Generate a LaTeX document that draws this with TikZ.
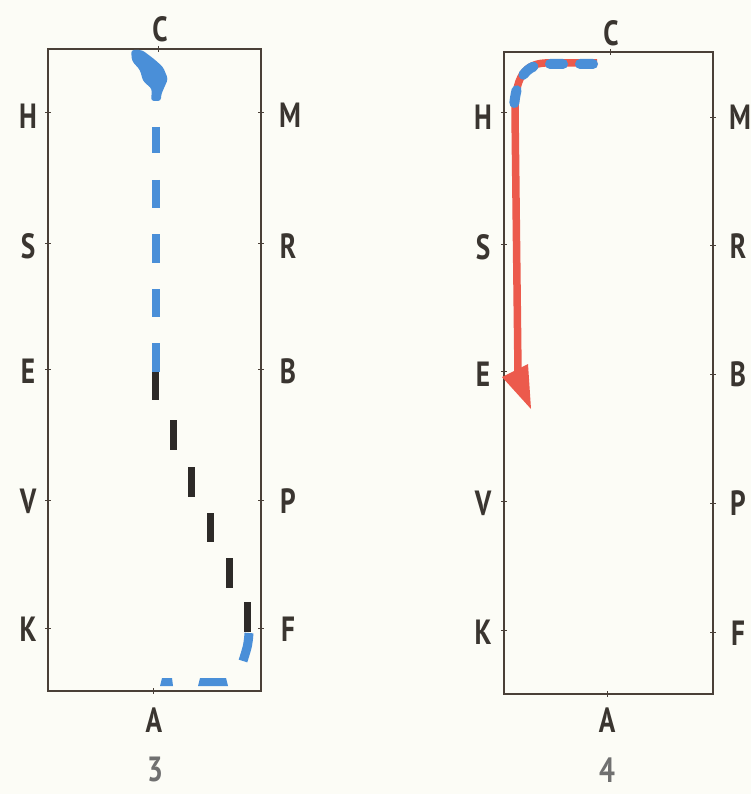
\documentclass[tikz,border=0pt]{standalone}
\usepackage{fontspec}
\setmainfont{PT Sans}
\begin{document}
\begin{tikzpicture}[x=1pt,y=-1pt,
  lbl/.style={font=\bfseries\fontsize{35}{36}\selectfont, text=labelc, xscale=0.78, inner sep=0pt},
  num/.style={font=\bfseries\fontsize{35}{36}\selectfont, text=numc, xscale=0.8, inner sep=0pt},
  arena/.style={draw=framec, line width=1.8pt},
  tickm/.style={draw=framec, line width=1pt},
  bluedash/.style={draw=blueC, line width=8.5pt},
  blackdash/.style={draw=blackC, line width=7pt},
]
\definecolor{labelc}{HTML}{3A3530}
\definecolor{numc}{HTML}{707070}
\definecolor{framec}{HTML}{4A4038}
\definecolor{blueC}{HTML}{4A8FD8}
\definecolor{blackC}{HTML}{2D2A28}
\definecolor{redC}{HTML}{EC5A4C}
\definecolor{bgc}{HTML}{FCFCF6}
\fill[bgc] (0,0) rectangle (751,794);
\useasboundingbox (0,0) rectangle (751,794);

% ---------- arena 3 ----------
\draw[arena] (48,49) rectangle (261,691);
\foreach \y in {113,243,369,500,628} {\draw[tickm] (45,\y) -- (51,\y); \draw[tickm] (258,\y) -- (264,\y);}
\draw[tickm] (158,46) -- (158,52);
\draw[tickm] (153,688) -- (153,694);
\node[lbl] (c3) at (160,29) {C};
\node[lbl] (h3) at (28,116) {H};
\node[lbl] (s3) at (28,246) {S};
\node[lbl] (e3) at (28,371) {E};
\node[lbl] (v3) at (28,501) {V};
\node[lbl] (k3) at (28,629) {K};
\node[lbl] (m3) at (290,115) {M};
\node[lbl] (r3) at (288,246) {R};
\node[lbl] (b3) at (288,371) {B};
\node[lbl] (p3) at (288,501) {P};
\node[lbl] (f3) at (288,629) {F};
\node[lbl] (a3) at (154,720) {A};
\node[num] (n3) at (155,769) {3};

% blue blob near C
\fill[blueC, rounded corners=3pt] (131,50) -- (142,50) -- (154,59) -- (163,67) -- (168,79) -- (164,88) -- (161,95)
  -- (161,101) -- (151,101) -- (152,89) -- (143,81) -- (140,70) -- (132,61) -- cycle;
% blue vertical dashes
\foreach \a/\b in {127/153,180/208,234/263,289/317,343/372}
  \draw[bluedash, line width=8pt] (156,\a) -- (156,\b);
% black diagonal dashes
\foreach \x/\a/\b in {155/372/400,173/420/450,191/467/497,210/513/542,229/558/588,247/602/632}
  \draw[blackdash] (\x,\a) -- (\x,\b);
% blue curve and bottom dashes
\draw[bluedash, line width=9pt] (249,633) .. controls (248,645) .. (243,661);
\fill[blueC] (162,678) -- (172,678) -- (173,686) -- (160,686) -- cycle;
\fill[blueC] (200,678) -- (226,678) -- (228,686) -- (198,686) -- cycle;

% ---------- arena 4 ----------
\draw[arena] (504,52) rectangle (713,694);
\foreach \y/\z in {113/118,244/245,371/374,501/503,630/632} {\draw[tickm] (501,\y) -- (507,\y); \draw[tickm] (710,\z) -- (716,\z);}
\draw[tickm] (610,49) -- (610,55);
\draw[tickm] (607,691) -- (607,697);
\node[lbl] (c4) at (611,33) {C};
\node[lbl] (h4) at (483,117) {H};
\node[lbl] (s4) at (483,247) {S};
\node[lbl] (e4) at (483,374) {E};
\node[lbl] (v4) at (483,503) {V};
\node[lbl] (k4) at (483,632) {K};
\node[lbl] (m4) at (740,117) {M};
\node[lbl] (r4) at (738,246) {R};
\node[lbl] (b4) at (738,374) {B};
\node[lbl] (p4) at (738,503) {P};
\node[lbl] (f4) at (738,633) {F};
\node[lbl] (a4) at (607,720) {A};
\node[num] (n4) at (607,770) {4};

% red path with arrow
\coordinate (rs) at (597,63);
\coordinate (rc) at (515,112);
\coordinate (re) at (518,372);
\draw[redC, line width=7.5pt] (rs) -- (545,63) .. controls (520,64) and (515,85) .. (rc) -- (re);
\fill[redC] (502,377) -- (528,364) -- (531,409) -- cycle;
% blue dashes on the turn
\draw[blueC, line width=10pt, line cap=round, dash pattern=on 13pt off 17pt, dash phase=0pt]
  (593,64) -- (545,64) .. controls (522,65) and (516,85) .. (514,106);
\end{tikzpicture}
\end{document}
